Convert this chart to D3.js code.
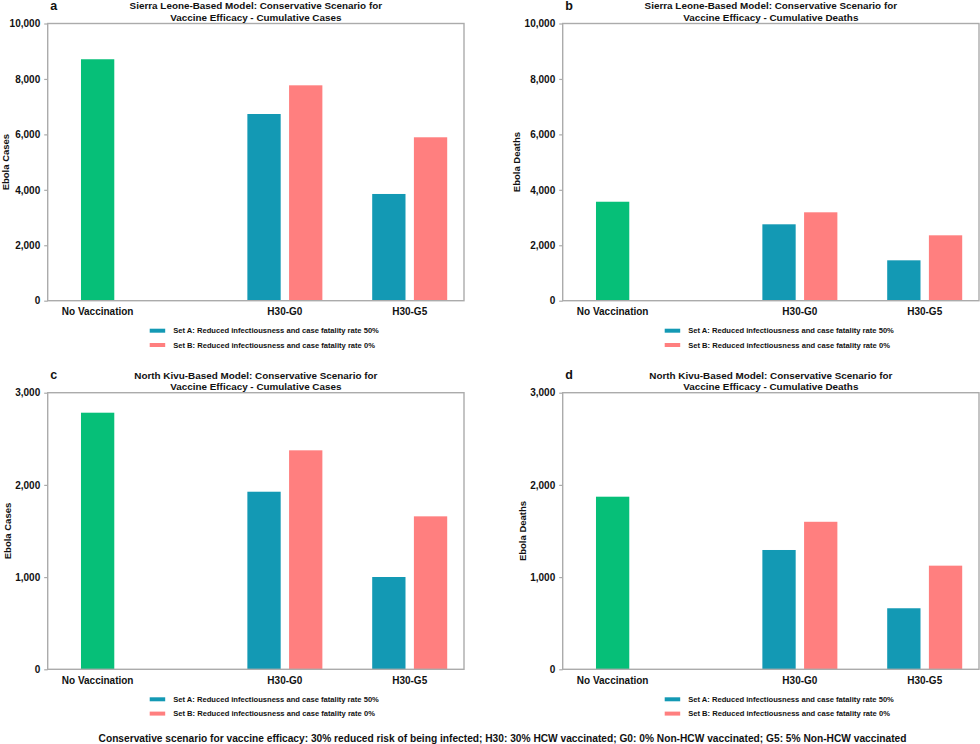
<!DOCTYPE html>
<html>
<head>
<meta charset="utf-8">
<script src="https://cdn.jsdelivr.net/npm/d3@7"></script>
<style>
  html, body { margin: 0; padding: 0; background: #fff; }
  svg { display: block; font-family: "Liberation Sans", Arial, sans-serif; }
</style>
</head>
<body>
<svg id="chart" width="980" height="744"></svg>
<script>
// ---------------- DATA ----------------
const categories = ["No Vaccination", "H30-G0", "H30-G5"];
const vaccCategories = ["H30-G0", "H30-G5"];
const seriesLabels = [
  "Set A: Reduced infectiousness and case fatality rate 50%",
  "Set B: Reduced infectiousness and case fatality rate 0%"
];
const panelLetters = ["a", "b", "c", "d"];
const panelTitles = [
  ["Sierra Leone-Based Model: Conservative Scenario for", "Vaccine Efficacy - Cumulative Cases"],
  ["Sierra Leone-Based Model: Conservative Scenario for", "Vaccine Efficacy - Cumulative Deaths"],
  ["North Kivu-Based Model: Conservative Scenario for", "Vaccine Efficacy - Cumulative Cases"],
  ["North Kivu-Based Model: Conservative Scenario for", "Vaccine Efficacy - Cumulative Deaths"]
];
const yTitles = ["Ebola Cases", "Ebola Deaths", "Ebola Cases", "Ebola Deaths"];
const sierraTicks = [0, 2000, 4000, 6000, 8000, 10000];
const kivuTicks = [0, 1000, 2000, 3000];

// No vaccination baseline per panel (a, b, c, d)
const noVaccination = [8710, 3570, 2783, 1872];
// Set A values per panel, for [H30-G0, H30-G5]
const setA_slCases = [6735, 3850];
const setA_slDeaths = [2756, 1457];
const setA_nkCases = [1926, 1001];
const setA_nkDeaths = [1294, 662];
// Set B values per panel, for [H30-G0, H30-G5]
const setB_slCases = [7770, 5895];
const setB_slDeaths = [3189, 2359];
const setB_nkCases = [2375, 1659];
const setB_nkDeaths = [1600, 1124];

const caption = "Conservative scenario for vaccine efficacy: 30% reduced risk of being infected; H30: 30% HCW vaccinated; G0: 0% Non-HCW vaccinated; G5: 5% Non-HCW vaccinated";

// ---------------- STYLE / LAYOUT ----------------
const colNoVac = "#06BF78";
const colSetA = "#1399B4";
const colSetB = "#FF7F7F";
const gridGrey = "#ABABAB";
const seriesColors = [colSetA, colSetB];

const setAList = [setA_slCases, setA_slDeaths, setA_nkCases, setA_nkDeaths];
const setBList = [setB_slCases, setB_slDeaths, setB_nkCases, setB_nkDeaths];
const tickList = [sierraTicks, sierraTicks, kivuTicks, kivuTicks];

const plotW = 416.3;
const layouts = [
  { left: 47.7, top: 23.5, bottom: 300.7 },
  { left: 562.7, top: 23.5, bottom: 300.7 },
  { left: 47.7, top: 392.7, bottom: 669.3 },
  { left: 562.7, top: 392.7, bottom: 669.3 }
];
// x slot layout (half-category units)
const slotOf = { "No Vaccination": 0, "H30-G0": 3, "H30-G5": 5 };
const barW = 33.3;
const dodge = 20.85;

const svg = d3.select("#chart");

panelLetters.forEach((letter, i) => {
  const L = layouts[i];
  const ticks = tickList[i];
  const g = svg.append("g");

  const x = d3.scaleLinear().domain([-0.8, 5.87]).range([L.left, L.left + plotW]);
  const y = d3.scaleLinear().domain([0, d3.max(ticks)]).range([L.bottom, L.top]);

  // Bars: no vaccination
  g.append("rect")
    .attr("x", x(slotOf[categories[0]]) - barW / 2)
    .attr("y", y(noVaccination[i]))
    .attr("width", barW)
    .attr("height", y(0) - y(noVaccination[i]))
    .attr("fill", colNoVac);

  // Dodged bars
  [setAList[i], setBList[i]].forEach((vals, s) => {
    g.selectAll(null).data(vaccCategories).enter().append("rect")
      .attr("x", (c) => x(slotOf[c]) + (s === 0 ? -dodge : dodge) - barW / 2)
      .attr("y", (c, k) => y(vals[k]))
      .attr("width", barW)
      .attr("height", (c, k) => y(0) - y(vals[k]))
      .attr("fill", seriesColors[s]);
  });

  // Panel border
  g.append("rect")
    .attr("x", L.left).attr("y", L.top)
    .attr("width", plotW).attr("height", L.bottom - L.top)
    .attr("fill", "none").attr("stroke", gridGrey).attr("stroke-width", 1.4);

  // Y axis
  const yAxis = d3.axisLeft(y).tickValues(ticks).tickSize(3.5).tickPadding(4)
    .tickFormat(d3.format(","));
  const ya = g.append("g").attr("transform", `translate(${L.left},0)`).call(yAxis);
  ya.select(".domain").remove();
  ya.selectAll(".tick line").attr("stroke", gridGrey).attr("stroke-width", 1.2);
  ya.selectAll(".tick text")
    .attr("fill", "#111").attr("font-size", 10).attr("font-weight", "bold")
    .attr("font-family", "Liberation Sans, Arial, sans-serif");

  let maxW = 0;
  ya.selectAll(".tick text").each(function () { maxW = Math.max(maxW, this.getComputedTextLength()); });

  // Y title
  g.append("text")
    .attr("transform", `translate(${Math.max(8.6, L.left - 3.5 - 4 - maxW - 4.5)}, ${(L.top + L.bottom) / 2}) rotate(-90)`)
    .attr("text-anchor", "middle")
    .attr("font-size", 9.5).attr("font-weight", "bold").attr("fill", "#111")
    .text(yTitles[i]);

  // X labels
  g.selectAll(null).data(categories).enter().append("text")
    .attr("x", (c) => x(slotOf[c]))
    .attr("y", L.bottom + 14.5)
    .attr("text-anchor", "middle")
    .attr("font-size", 10).attr("font-weight", "bold").attr("fill", "#111")
    .text((c) => c);

  // Title
  panelTitles[i].forEach((t, k) => {
    g.append("text")
      .attr("x", L.left + plotW / 2)
      .attr("y", L.top - 14.2 + k * 11.2)
      .attr("text-anchor", "middle")
      .attr("font-size", 9.9).attr("font-weight", "bold").attr("fill", "#111")
      .text(t);
  });

  // Panel letter
  g.append("text")
    .attr("x", L.left + 2.5)
    .attr("y", L.top - 13.5)
    .attr("font-size", 12.5).attr("font-weight", "bold").attr("fill", "#111")
    .text(letter);

  // Legend
  seriesLabels.forEach((lab, k) => {
    const ly = L.bottom + 30 + k * 14.3;
    g.append("line")
      .attr("x1", L.left + 102).attr("x2", L.left + 117.5)
      .attr("y1", ly).attr("y2", ly)
      .attr("stroke", seriesColors[k]).attr("stroke-width", 4);
    g.append("text")
      .attr("x", L.left + 125.5).attr("y", ly + 2.6)
      .attr("font-size", 7.6).attr("font-weight", "bold").attr("fill", "#111")
      .text(lab);
  });
});

// Caption
svg.append("text")
  .attr("x", 502.5).attr("y", 741.5)
  .attr("text-anchor", "middle")
  .attr("font-size", 10.2).attr("font-weight", "bold").attr("fill", "#111")
  .text(caption);
</script>
</body>
</html>
